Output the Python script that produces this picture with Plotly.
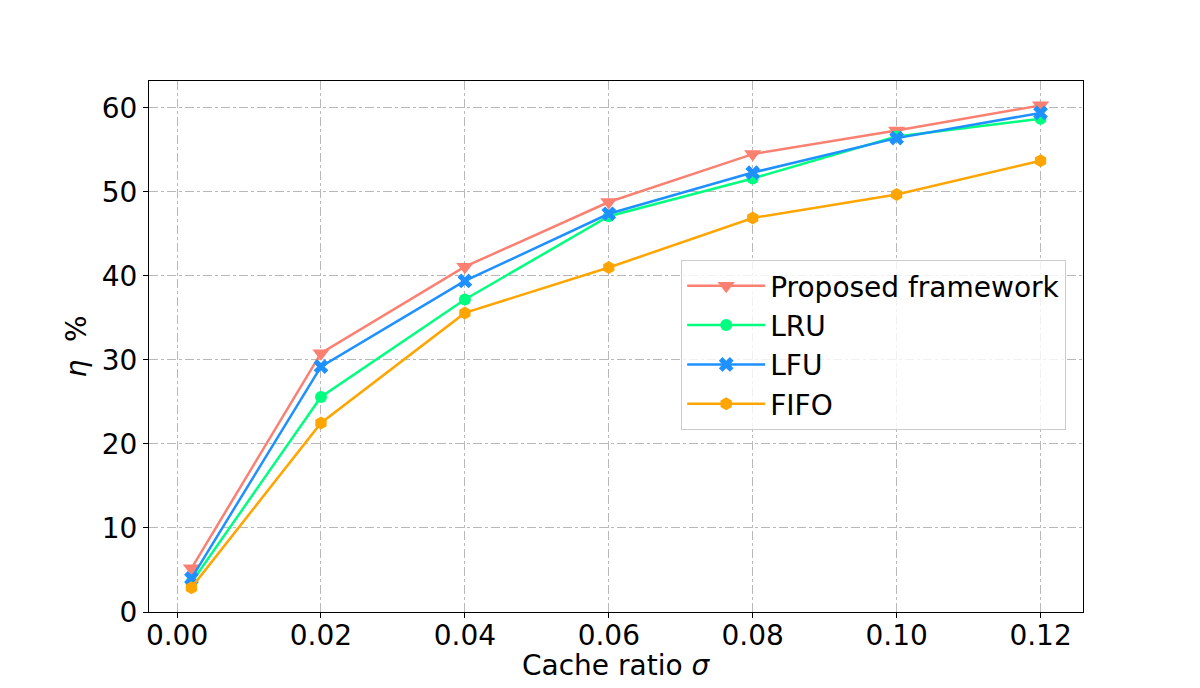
import plotly.graph_objects as go

cache_ratio = [0.002, 0.02, 0.04, 0.06, 0.08, 0.10, 0.12]
proposed = [5.2, 30.8, 41.1, 48.8, 54.5, 57.3, 60.3]
lru = [3.5, 25.6, 37.2, 47.1, 51.6, 56.6, 58.7]
lfu = [4.0, 29.2, 39.4, 47.4, 52.3, 56.4, 59.4]
fifo = [2.9, 22.5, 35.6, 41.0, 46.9, 49.7, 53.7]

x_ticks = [0.00, 0.02, 0.04, 0.06, 0.08, 0.10, 0.12]
x_tick_labels = ["0.00", "0.02", "0.04", "0.06", "0.08", "0.10", "0.12"]
y_ticks = [0, 10, 20, 30, 40, 50, 60]

series = [
    ("Proposed framework", proposed, "#FA8072", "triangle-down", 15),
    ("LRU", lru, "#00FF7F", "circle", 12),
    ("LFU", lfu, "#1E90FF", "x", 13),
    ("FIFO", fifo, "#FFA500", "hexagon", 13),
]

fig = go.Figure()
for name, vals, color, sym, size in series:
    fig.add_trace(go.Scatter(
        x=cache_ratio, y=vals, name=name, mode="lines+markers",
        line=dict(color=color, width=2.5),
        marker=dict(symbol=sym, size=size, color=color, line=dict(width=0)),
    ))

font = "DejaVu Sans, sans-serif"
FS = 28
axis_common = dict(
    showline=True, linecolor="black", linewidth=1.2, mirror=True,
    ticks="outside", ticklen=5, tickwidth=1.2, tickcolor="black",
    showgrid=True, gridcolor="#b8b8b8", gridwidth=1, griddash="dashdot",
    zeroline=False, tickfont=dict(family=font, size=FS, color="black"),
)

fig.update_layout(
    width=1200, height=688,
    margin=dict(l=141, r=125, t=73, b=84, autoexpand=False),
    paper_bgcolor="white", plot_bgcolor="white",
    font=dict(family=font, color="black"),
    xaxis=dict(
        range=[-0.0039, 0.1259], tickvals=x_ticks, ticktext=x_tick_labels,
        ticklabelstandoff=-7,
        **axis_common,
    ),
    yaxis=dict(
        range=[0, 63.2], tickvals=y_ticks,
        title=dict(text="<i>η</i>  %", font=dict(family=font, size=FS), standoff=6),
        **axis_common,
    ),
    legend=dict(
        x=0.982, y=0.663, xanchor="right", yanchor="top",
        bgcolor="rgba(255,255,255,0.8)", bordercolor="#cccccc", borderwidth=1,
        font=dict(family=font, size=FS, color="black"),
        itemwidth=78, tracegroupgap=0,
    ),
    annotations=[dict(
        text="Cache ratio <i>σ</i>", xref="paper", yref="paper",
        x=0.5, y=-0.1, xanchor="center", yanchor="middle", showarrow=False,
        font=dict(family=font, size=FS, color="black"),
    )],
    showlegend=True,
)

fig.write_html("out.html")
